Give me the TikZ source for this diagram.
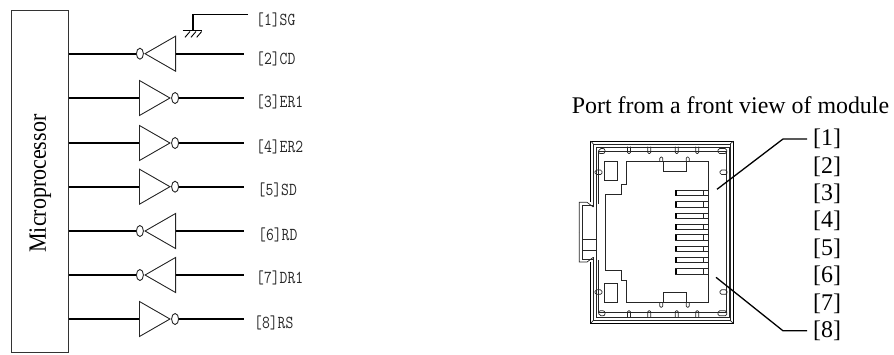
\documentclass[tikz,border=0pt]{standalone}
\usepackage{fontspec}
\setmainfont{Liberation Serif}
\usepackage{tikz}
\usetikzlibrary{shapes,positioning}

% one half of the port, the lower half is the same one mirrored
\newcommand{\porthalf}{
    \draw [frameline] (590.7,202) -- (590.7,141) -- (733.3,141) -- (733.3,232.15);
    \draw [portline] (593.3,207) -- (593.3,143.9) -- (730.3,143.9) -- (730.3,232.15);
    \draw [portline] (595.9,232.15) -- (595.9,147.2) -- (729,147.2) -- (729,232.15);
    \draw [portline] (598.3,204) -- (598.3,151.7) -- (726.7,151.7) -- (726.7,232.15);
    \draw [portline] (590.7,141) -- (593.3,143.9);
    \draw [portline] (733.3,141) -- (730.3,143.9);
    % clips along the edge
    \foreach \cx in {629,649.3,676.7,697.3}
        \draw [portline, rounded corners=1.2] (\cx-1.5,146.5) -- (\cx-1.5,153.6) -- (\cx+1.5,153.6) -- (\cx+1.5,146.5);
    \draw [portline, rounded corners=2] (598.3,153.5) -- (599,148.5) -- (605,148.5) -- (605,153.5) -- cycle;
    \draw [portline, rounded corners=1.5] (718,153.5) -- (718,148.5) -- (726.7,148.5) -- (726.7,153.5) -- cycle;
    \draw [portline, rounded corners=1.5] (595,170) rectangle (602,174.5);
    \draw [portline, rounded corners=1.5] (720,170) rectangle (727,174.5);
    % opening
    \draw [portline] (605.7,232.15) -- (605.7,194) -- (621.7,194) -- (621.7,184.3) -- (626.7,184.3) -- (626.7,161.7) -- (708.3,161.7) -- (708.3,232.15);
    \draw [portline] (663,161.7) -- (663,171.7) -- (686,171.7) -- (686,161.7);
    \foreach \cx in {661.3,687.7}
        \draw [portline, rounded corners=1.2] (\cx-1.5,161.7) -- (\cx-1.5,157) -- (\cx+1.5,157) -- (\cx+1.5,161.7);
    \draw [portline] (604,161.7) rectangle (617.3,180.7);
    % contacts
    \foreach \py in {190.3,201.6,212.9,224.2} {
        \draw [portline] (675,\py) rectangle (708.3,\py+5.3);
        \draw [portline] (703.3,\py) -- (703.3,\py+5.3);
        \fill (675,\py) rectangle (677,\py+5.3);
    }
    % latch
    \draw [portline] (579.3,232.15) -- (579.3,202.3) -- (587,202.3) -- (593.3,207);
    \draw [portline] (582.3,232.15) -- (582.3,205) -- (593.3,205);
}

\begin{document}
\begin{tikzpicture}[x=1pt, y=-1pt]
    \tikzset{wire/.style = {draw, line width=1.7pt}}
    \tikzset{gate/.style = {isosceles triangle, isosceles triangle stretches, draw=black!85, line width=0.9pt, inner sep=0pt, minimum width=35pt, minimum height=30.5pt}}
    \tikzset{bubble/.style = {ellipse, draw=black!85, line width=0.9pt, fill=white, inner sep=0pt, minimum width=7pt, minimum height=11pt}}
    \tikzset{pinlabel/.style = {anchor=west, inner sep=0pt, text=black!85, font=\ttfamily\fontsize{15.2}{17}\selectfont}}
    \tikzset{portlabel/.style = {anchor=west, inner ysep=0pt, inner xsep=6pt, font=\fontsize{23.9}{26}\selectfont}}
    \tikzset{portline/.style = {draw=black!85, line width=0.7pt}}
    \tikzset{frameline/.style = {draw=black, line width=1pt}}
    \tikzset{leader/.style = {draw, line width=1.3pt}}

    \useasboundingbox (0,0) rectangle (894,354);

    \node [draw=black!80, line width=1.2pt, anchor=north west, minimum width=56.5pt, minimum height=342pt, inner sep=0pt] (micro) at (11,10) {};
    \node [rotate=90, font=\fontsize{22}{24}\selectfont] (microtext) at (micro.center) [xshift=-2pt, yshift=-0.5pt] {\scalebox{1}[1.13]{Microprocessor}};

    % gates pointing to the right
    \foreach \n/\wy in {3/98, 4/143, 5/186.7, 8/319} {
        \node [gate, anchor=west] (gate\n) at (139,\wy) {};
        \node [bubble, right=0pt of gate\n.east] (bub\n) {};
        \coordinate (end\n) at (244,\wy);
        \draw [wire] (micro.east |- gate\n) -- (gate\n.west);
        \draw [wire] (bub\n) -- (end\n);
    }
    % gates pointing to the left
    \foreach \n/\wy in {2/53.7, 6/231, 7/275} {
        \node [gate, shape border rotate=180, anchor=east] (gate\n) at (176,\wy) {};
        \node [bubble, left=0pt of gate\n.west] (bub\n) {};
        \coordinate (end\n) at (244,\wy);
        \draw [wire] (micro.east |- gate\n) -- (bub\n);
        \draw [wire] (gate\n.east) -- (end\n);
    }

    \foreach \n/\lx/\ly/\sig in {1/256/20/SG, 2/256/58.7/CD, 3/256/102/ER1, 4/256/147/ER2, 5/257.5/190/SD, 6/258/235/RD, 7/256/278/DR1, 8/254/323/RS}
        \node [pinlabel] (pin\n) at (\lx,\ly) {\scalebox{1}[1.2]{[\n]\sig}};

    % ground
    \coordinate (sgend) at (248,14.7);
    \coordinate (gnd) at (193,30.7);
    \draw [wire, line width=1.3pt] (sgend) -| (gnd);
    \draw [line width=1.3pt] (182.7,30.7) -- (202.3,30.7);
    \foreach \hx in {190,196,201.7}
        \draw [line width=0.9pt] (\hx,31.5) -- (\hx-5,37.3);

    \node [anchor=base west, inner sep=0pt, font=\fontsize{23.9}{26}\selectfont] (title) at (571.7,113) {Port from a front view of module};

    \porthalf
    \begin{scope}[shift={(0,464.3)}, yscale=-1]
        \porthalf
    \end{scope}
    % latch middle part
    \draw [portline] (582.3,239.3) -- (596,239.3);
    \draw [portline] (582.3,250) -- (596,250);

    \foreach \n [evaluate=\n as \py using 139+27.4*(\n-1)] in {1,...,8}
        \node [portlabel] (port\n) at (807,\py) {[\n]};

    \coordinate (tag1) at (717,189.3);
    \coordinate (tag8) at (716,277.3);
    \draw [leader] (port1.west) -- ++(-24,0) -- (tag1);
    \draw [leader] (port8.west) -- ++(-24,0) -- (tag8);
\end{tikzpicture}
\end{document}
